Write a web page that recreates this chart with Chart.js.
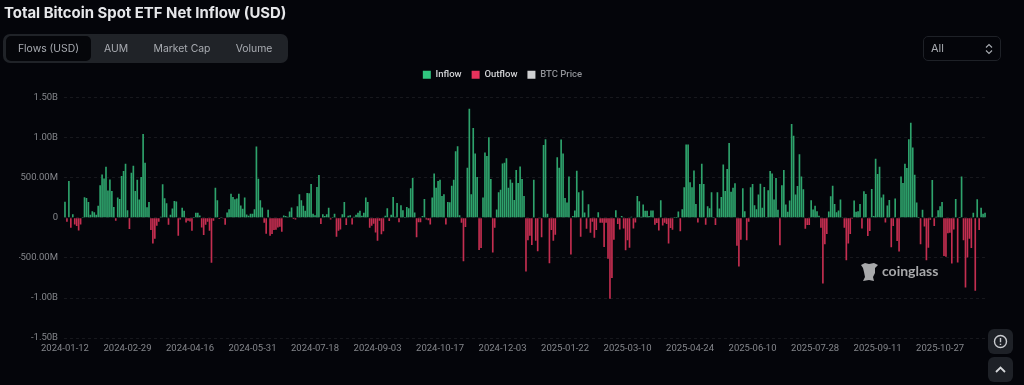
<!DOCTYPE html>
<html>
<head>
<meta charset="utf-8">
<script src="https://cdn.jsdelivr.net/npm/chart.js@4"></script>
<style>
body { margin: 0; background: #04050a; width: 1024px; height: 385px; overflow: hidden; position: relative; font-family: Inter, Roboto, sans-serif; }
canvas { position: absolute; left: 0; top: 0; }
.title { position: absolute; left: 4px; top: 3px; color: #e6e7ea; font-size: 14.9px; font-weight: 700; line-height: 20px; white-space: nowrap; }
.tabs { position: absolute; left: 3px; top: 34px; width: 285px; height: 29px; background: #202328; border-radius: 7px; }
.tab { position: absolute; top: 2px; height: 25px; line-height: 25px; text-align: center; color: #a9acb2; font-size: 10.4px; }
.tab.on { background: #05060a; border-radius: 5px; }
.select { position: absolute; left: 923px; top: 36px; width: 76px; height: 23px; border: 1px solid #1e2127; border-radius: 5px; color: #a9acb2; font-size: 11px; line-height: 23px; }
.select span { position: absolute; left: 7px; }
.select svg { position: absolute; left: 60px; top: 6px; }
.btn { position: absolute; left: 988px; width: 25px; height: 25px; background: #1e2127; border-radius: 6px; }
.btn svg { position: absolute; left: 5px; top: 5px; }
.mark { position: absolute; left: 882px; top: 262px; color: #a8a9ab; font-family: Lato, sans-serif; font-size: 14px; font-weight: 700; line-height: 18px; }
.markicon { position: absolute; left: 860px; top: 262px; }
</style>
</head>
<body>
<canvas id="flowChart" width="1004" height="385"></canvas>
<div class="title">Total Bitcoin Spot ETF Net Inflow (USD)</div>
<div class="tabs">
  <div class="tab on" style="left:3px;width:85px">Flows (USD)</div>
  <div class="tab" style="left:88px;width:50px">AUM</div>
  <div class="tab" style="left:143px;width:72px">Market Cap</div>
  <div class="tab" style="left:220px;width:62px">Volume</div>
</div>
<div class="select"><span>All</span>
  <svg width="10" height="12" viewBox="0 0 10 12" fill="none" stroke="#a9acb2" stroke-width="1.1"><path d="M2 4.5 5 1.5 8 4.5M2 7.5 5 10.5 8 7.5"/></svg>
</div>
<div class="btn" style="top:329px">
  <svg width="15" height="15" viewBox="0 0 15 15" fill="none" stroke="#c9cbcf" stroke-width="1.4"><circle cx="7.5" cy="7.5" r="6"/><path d="M7.5 4v4.2M7.5 9.8v1.2"/></svg>
</div>
<div class="btn" style="top:357px">
  <svg width="15" height="15" viewBox="0 0 15 15" fill="none" stroke="#d5d7da" stroke-width="1.8"><path d="M3 10 7.5 5.5 12 10"/></svg>
</div>
<svg class="markicon" width="19" height="20" viewBox="0 0 19 20" fill="#a8a9ab"><path d="M1 3 5 1 9 2 14 1 18 3 15 6 15 11 13 15 14 19 9 18 3 19 5 15 4 10 3 6z"/></svg>
<div class="mark">coinglass</div>
<script>
// net flow per trading day, in millions of USD
const netFlows = [
  200,-50,458,-124,45,-83,-103,-157,-83,5,256,248,198,37,83,70,37,149,405,541,491,636,339,479,335,136,-37,252,235,520,582,673,95,-140,562,648,335,475,227,508,1045,685,132,198,
  -153,-322,-260,-99,-50,12,417,244,182,-87,37,116,211,202,-223,-20,124,87,-58,-37,-45,-161,2,62,62,29,-120,-215,-87,-50,-161,-562,-37,376,219,-16,10,-8,-87,66,107,301,260,231,240,301,153,112,252,41,25,50,50,107,888,487,219,128,-62,-198,99,-223,-202,-153,-149,-120,
  -112,-173,29,21,12,78,128,-16,-20,145,293,219,149,87,310,306,421,50,33,384,533,-78,45,21,45,124,-20,2,50,-235,-161,-145,45,198,-91,25,33,-83,12,37,62,87,25,62,252,198,-124,-99,-74,-182,-285,-37,-206,-169,25,120,-41,37,260,12,186,-54,157,95,2,136,120,368,496,66,-244,-54,-54,21,235,-20,-29,-83,252,553,376,458,475,273,293,-83,198,194,400,475,830,892,33,-62,-541,-116,623,1359,293,1119,801,508,-400,-376,252,813,772,1003,483,-433,-124,103,318,351,677,685,743,376,
  479,438,223,595,434,640,483,273,-669,-281,-223,-339,475,-285,-417,-3,-244,909,979,50,-566,-153,-285,-211,756,624,975,801,248,190,516,-458,21,91,586,318,-235,339,66,-136,169,-186,-50,-248,-153,70,-62,-62,-363,-62,-512,-1008,-752,-273,95,-78,-145,21,-132,-405,-281,-372,12,-132,-58,273,206,12,165,87,87,21,91,91,-87,-66,-157,219,-95,-62,-78,-322,-128,-149,2,2,78,-169,107,380,913,913,442,380,590,173,-58,421,673,421,-87,145,120,318,4,-91,318,116,260,665,335,607,933,326,376,430,-347,-607,
  -273,368,83,-281,-50,380,421,157,107,289,425,124,384,3,343,583,553,227,496,99,-343,405,595,165,74,215,1169,1024,289,397,793,516,355,-136,-91,-91,219,103,149,83,25,-124,-818,-331,-202,78,268,401,173,70,91,227,3,-124,-529,-322,-202,-12,215,74,83,173,-132,330,297,-227,-165,359,21,735,545,636,252,289,-58,153,223,-368,-103,240,-289,-421,516,434,673,620,979,1186,876,537,190,2,-331,99,-107,-529,-372,-25,471,-103,12,95,145,198,-475,-487,-194,-186,-570,-145,235,-558,2,516,-281,-868,-496,-260,-376,62,-909,231,-153,124,50,62
];
const inflow = netFlows.map(v => v > 0 ? v : null);
const outflow = netFlows.map(v => v < 0 ? v : null);
const btcPrice = [];
const dateTicks = ['2024-01-12','2024-02-29','2024-04-16','2024-05-31','2024-07-18','2024-09-03','2024-10-17','2024-12-03','2025-01-22','2025-03-10','2025-04-24','2025-06-10','2025-07-28','2025-09-11','2025-10-27'];
const tickEvery = 32;
const categories = netFlows.map((v, i) => i % tickEvery === 0 ? dateTicks[i / tickEvery] : '');

const formatFlow = (v) => {
  if (v === 0) return '0';
  if (Math.abs(v) >= 1000) return (v / 1000).toFixed(2) + 'B';
  return v.toFixed(2) + 'M';
};

// leave room under the legend
const legendGap = {
  id: 'legendGap',
  beforeInit(chart) {
    const fit = chart.legend.fit;
    chart.legend.fit = function () {
      fit.call(this);
      this.height += 8;
    };
  },
};

new Chart(document.getElementById('flowChart'), {
  type: 'bar',
  plugins: [legendGap],
  data: {
    labels: categories,
    datasets: [
      { label: 'Inflow', data: inflow, backgroundColor: '#2ea36c', barPercentage: 0.85, categoryPercentage: 1 },
      { label: 'Outflow', data: outflow, backgroundColor: '#c42e50', barPercentage: 0.85, categoryPercentage: 1 },
      { label: 'BTC Price', data: btcPrice, backgroundColor: '#cfd0d2' },
    ],
  },
  options: {
    responsive: false,
    animation: false,
    layout: { padding: { top: 60, right: 18, bottom: 25.5, left: 19 } },
    plugins: {
      tooltip: { enabled: false },
      legend: {
        labels: {
          color: '#b5b7bb',
          boxWidth: 8,
          boxHeight: 8,
          padding: 10,
          font: { family: 'Roboto', size: 9.5, weight: '500' },
          generateLabels: (chart) => chart.data.datasets.map((d, i) => ({
            text: d.label,
            fillStyle: ['#30c67f', '#e8325c', '#cfd0d2'][i],
            strokeStyle: 'transparent',
            lineWidth: 0,
            fontColor: i === 2 ? '#8f9196' : '#d3d4d7',
            datasetIndex: i,
          })),
        },
      },
    },
    scales: {
      x: {
        stacked: true,
        grid: { display: false, drawTicks: false },
        border: { display: false },
        ticks: { autoSkip: false, maxRotation: 0, padding: 5, color: '#85878c', font: { family: 'Roboto', size: 9.5 } },
      },
      y: {
        stacked: true,
        min: -1500,
        max: 1500,
        afterFit: (axis) => { axis.width = 45; },
        grid: { color: 'rgba(255,255,255,0.08)', drawTicks: false },
        border: { display: false, dash: [3, 3] },
        ticks: { stepSize: 500, padding: 6, color: '#85878c', font: { family: 'Roboto', size: 9.5 }, callback: formatFlow },
      },
    },
  },
});
</script>
</body>
</html>
